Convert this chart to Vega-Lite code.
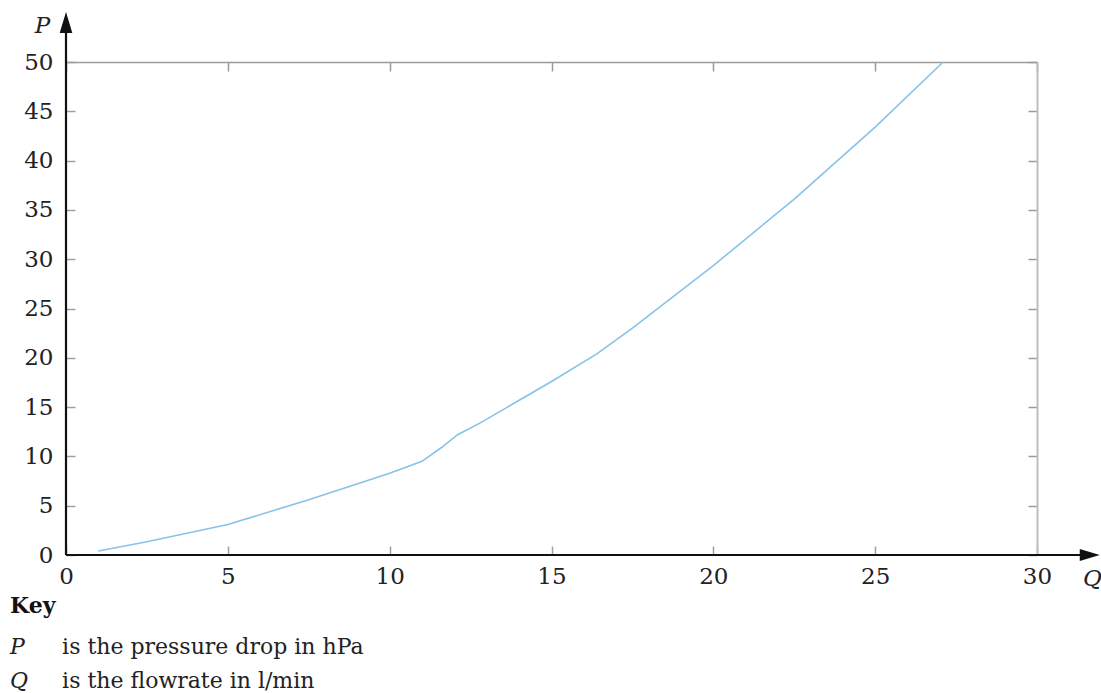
{
  "$schema": "https://vega.github.io/schema/vega-lite/v6.json",
  "width": 971,
  "height": 493,
  "autosize": {"type": "none"},
  "padding": {"left": 66, "top": 62, "right": 64, "bottom": 138},
  "background": "white",
  "config": {"view": {"stroke": null}},
  "datasets": {
    "curve": [
      {"Q": 1.0, "P": 0.4},
      {"Q": 2.5, "P": 1.35},
      {"Q": 5.0, "P": 3.1},
      {"Q": 7.5, "P": 5.6},
      {"Q": 10.0, "P": 8.3},
      {"Q": 11.0, "P": 9.5},
      {"Q": 11.6, "P": 10.9},
      {"Q": 12.1, "P": 12.2},
      {"Q": 12.8, "P": 13.4},
      {"Q": 15.0, "P": 17.6},
      {"Q": 16.4, "P": 20.4},
      {"Q": 17.5, "P": 23.0},
      {"Q": 20.0, "P": 29.35},
      {"Q": 22.5, "P": 36.1},
      {"Q": 25.0, "P": 43.4},
      {"Q": 27.1, "P": 50.0}
    ],
    "one": [{}]
  },
  "layer": [
    {
      "data": {"name": "curve"},
      "mark": {"type": "line", "strokeOpacity": 0},
      "encoding": {
        "x": {"field": "Q", "type": "quantitative", "scale": {"domain": [0, 30], "nice": false, "zero": false},
          "axis": {"orient": "top", "values": [0, 5, 10, 15, 20, 25, 30], "labels": false, "title": null,
            "domainColor": "#9a9a9a", "domainWidth": 1.5, "tickColor": "#9a9a9a", "tickWidth": 1.5, "tickSize": -9, "grid": false}},
        "y": {"field": "P", "type": "quantitative", "scale": {"domain": [0, 50], "nice": false, "zero": false},
          "axis": {"orient": "right", "values": [0, 5, 10, 15, 20, 25, 30, 35, 40, 45, 50], "labels": false, "title": null,
            "domainColor": "#bdbdbd", "domainWidth": 2, "tickColor": "#9a9a9a", "tickWidth": 1.5, "tickSize": -9, "grid": false}}
      }
    },
    {
      "data": {"name": "curve"},
      "mark": {"type": "line", "color": "#86c2ea", "strokeWidth": 1.6},
      "encoding": {
        "x": {"field": "Q", "type": "quantitative",
          "axis": {"orient": "bottom", "values": [0, 5, 10, 15, 20, 25, 30], "domain": false, "grid": false,
            "tickColor": "#a0a0a0", "tickWidth": 1.5, "tickSize": -9, "labelPadding": 19, "labelFlush": false,
            "labelFont": "DejaVu Serif", "labelFontSize": 23, "labelColor": "#222",
            "title": "Q", "titleFont": "DejaVu Serif", "titleFontStyle": "italic", "titleFontWeight": "normal", "titleFontSize": 23, "titleColor": "#222",
            "titleX": 1026, "titleY": 23, "titleAlign": "center", "titleBaseline": "middle", "titleAnchor": null}},
        "y": {"field": "P", "type": "quantitative",
          "axis": {"orient": "left", "values": [0, 5, 10, 15, 20, 25, 30, 35, 40, 45, 50], "domain": false, "grid": false,
            "tickColor": "#a0a0a0", "tickWidth": 1.5, "tickSize": -9, "labelPadding": 22, "labelFlush": false,
            "labelFont": "DejaVu Serif", "labelFontSize": 23, "labelColor": "#222",
            "title": "P", "titleFont": "DejaVu Serif", "titleFontStyle": "italic", "titleFontWeight": "normal", "titleFontSize": 23, "titleColor": "#222",
            "titleAngle": 0, "titleX": -24, "titleY": -37, "titleAlign": "center", "titleBaseline": "middle", "titleAnchor": null}}
      }
    },
    {
      "data": {"name": "one"},
      "mark": {"type": "rule", "color": "#111", "strokeWidth": 2.2},
      "encoding": {
        "x": {"datum": 0, "type": "quantitative", "axis": null},
        "x2": {"datum": 31.4},
        "y": {"datum": 0, "type": "quantitative", "axis": null}
      }
    },
    {
      "data": {"name": "one"},
      "mark": {"type": "rule", "color": "#111", "strokeWidth": 2.2},
      "encoding": {
        "x": {"datum": 0, "type": "quantitative", "axis": null},
        "y": {"datum": 0, "type": "quantitative", "axis": null},
        "y2": {"datum": 53}
      }
    },
    {
      "data": {"name": "one"},
      "mark": {"type": "point", "shape": "M-1,-0.6L1,0L-1,0.6Z", "size": 400, "filled": true, "color": "#111", "opacity": 1},
      "encoding": {
        "x": {"datum": 31.63, "type": "quantitative", "axis": null},
        "y": {"datum": 0, "type": "quantitative", "axis": null}
      }
    },
    {
      "data": {"name": "one"},
      "mark": {"type": "point", "shape": "M-0.6,1L0,-1L0.6,1Z", "size": 441, "filled": true, "color": "#111", "opacity": 1},
      "encoding": {
        "x": {"datum": 0, "type": "quantitative", "axis": null},
        "y": {"datum": 54.0, "type": "quantitative", "axis": null}
      }
    },
    {
      "data": {"name": "one"},
      "mark": {"type": "text", "text": "Key", "font": "DejaVu Serif", "fontWeight": "bold", "fontSize": 22, "align": "left", "baseline": "alphabetic", "color": "#111"},
      "encoding": {
        "x": {"datum": -1.73, "type": "quantitative", "axis": null},
        "y": {"datum": -5.9, "type": "quantitative", "axis": null}
      }
    },
    {
      "data": {"name": "one"},
      "mark": {"type": "text", "text": "P", "font": "DejaVu Serif", "fontStyle": "italic", "fontSize": 22, "align": "left", "baseline": "alphabetic", "color": "#222"},
      "encoding": {
        "x": {"datum": -1.73, "type": "quantitative", "axis": null},
        "y": {"datum": -10.05, "type": "quantitative", "axis": null}
      }
    },
    {
      "data": {"name": "one"},
      "mark": {"type": "text", "text": "is the pressure drop in hPa", "font": "DejaVu Serif", "fontSize": 22, "align": "left", "baseline": "alphabetic", "color": "#222"},
      "encoding": {
        "x": {"datum": -0.12, "type": "quantitative", "axis": null},
        "y": {"datum": -10.05, "type": "quantitative", "axis": null}
      }
    },
    {
      "data": {"name": "one"},
      "mark": {"type": "text", "text": "Q", "font": "DejaVu Serif", "fontStyle": "italic", "fontSize": 22, "align": "left", "baseline": "alphabetic", "color": "#222"},
      "encoding": {
        "x": {"datum": -1.73, "type": "quantitative", "axis": null},
        "y": {"datum": -13.5, "type": "quantitative", "axis": null}
      }
    },
    {
      "data": {"name": "one"},
      "mark": {"type": "text", "text": "is the flowrate in l/min", "font": "DejaVu Serif", "fontSize": 22, "align": "left", "baseline": "alphabetic", "color": "#222"},
      "encoding": {
        "x": {"datum": -0.12, "type": "quantitative", "axis": null},
        "y": {"datum": -13.5, "type": "quantitative", "axis": null}
      }
    }
  ],
  "resolve": {"axis": {"x": "independent", "y": "independent"}}
}
